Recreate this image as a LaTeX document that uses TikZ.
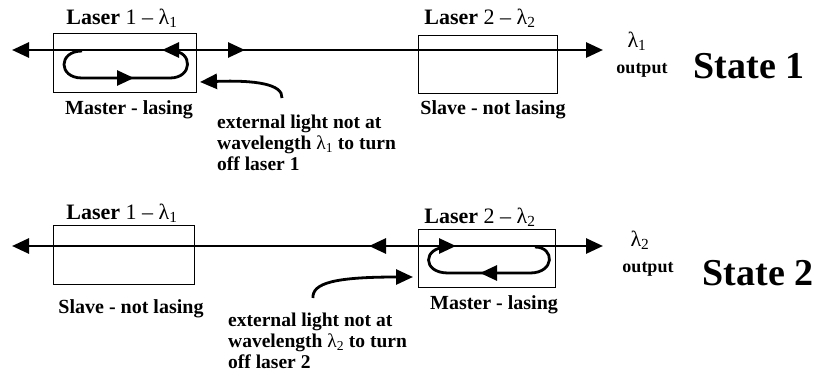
\documentclass[tikz,border=0pt]{standalone}
\usepackage{fontspec}
\setmainfont{Liberation Serif}
\usetikzlibrary{arrows.meta}
\tikzset{
  beam/.style={line width=2.8pt, draw=black},
  tri/.tip={Triangle[length=17pt,width=15pt]},
  laserbox/.style={draw=black, line width=0.8pt, rectangle, inner sep=0pt},
  lbl/.style={font=\fontsize{20}{22}\selectfont\bfseries, inner sep=0pt},
  lasertxt/.style={font=\fontsize{22}{24}\selectfont, inner sep=0pt},
  note/.style={font=\fontsize{19.5}{21}\selectfont\bfseries, inner sep=0pt, align=left, anchor=north west},
  statetxt/.style={font=\fontsize{38}{40}\selectfont\bfseries, inner sep=0pt},
}
\begin{document}
\begin{tikzpicture}[x=1pt,y=-1pt]
\useasboundingbox (0,0) rectangle (814,383);
% ---------------- State 1 ----------------
\node[laserbox, minimum width=143pt, minimum height=59pt] (b11) at (124.5,62.5) {};
\node[laserbox, minimum width=139pt, minimum height=58pt] (b12) at (488,64) {};
\coordinate (l1L) at (12,50);
\coordinate (l1R) at (603,50);
\draw[beam, {tri}-{tri}] (l1L) -- (l1R);
\coordinate (m1a) at (180,50); \coordinate (m1b) at (162,50);
\draw[beam, -{tri}] (m1a) -- (m1b);
\coordinate (m1c) at (226,50); \coordinate (m1d) at (245,50);
\draw[beam, -{tri}] (m1c) -- (m1d);
% loop
\coordinate (lp1s) at (82,51);
\coordinate (lp1e) at (172,51);
\draw[beam] (lp1s) .. controls (58,51) and (58,78) .. (82,78) -- (170,78) .. controls (193,78) and (193,51) .. (lp1e);
\coordinate (lp1a) at (115,78); \coordinate (lp1b) at (134,78);
\draw[beam, -{tri}] (lp1a) -- (lp1b);
% external light arrow
\coordinate (e1s) at (282,98);
\coordinate (e1t) at (200,82);
\draw[beam, -{tri}] (e1s) .. controls (283,84) and (255,80) .. (e1t);
% labels
\node[lasertxt] (t11) at (122,18) {\textbf{Laser} 1 – λ\textsubscript{1}};
\node[lasertxt] (t12) at (480,18) {\textbf{Laser} 2 – λ\textsubscript{2}};
\node[lbl] (s11) at (129,110) {Master - lasing};
\node[lbl] (s12) at (493,110) {Slave - not lasing};
\node[note] (n1) at (217,115) {external light not at\\wavelength \textmd{λ\textsubscript{1}} to turn\\off laser 1};
\node[lasertxt] (o1l) at (637,41) {λ\textsubscript{1}};
\node[lbl, font=\fontsize{18}{20}\selectfont\bfseries] (o1) at (642,70) {output};
\node[statetxt] (st1) at (749,66) {State 1};
% ---------------- State 2 ----------------
\node[laserbox, minimum width=141pt, minimum height=59pt] (b21) at (123.5,254.5) {};
\node[laserbox, minimum width=137pt, minimum height=58pt] (b22) at (486.5,258) {};
\coordinate (l2L) at (12,246);
\coordinate (l2R) at (603,246);
\draw[beam, {tri}-{tri}] (l2L) -- (l2R);
\coordinate (m2a) at (388,246); \coordinate (m2b) at (369,246);
\draw[beam, -{tri}] (m2a) -- (m2b);
\coordinate (m2c) at (437,246); \coordinate (m2d) at (456,246);
\draw[beam, -{tri}] (m2c) -- (m2d);
% loop
\coordinate (lp2s) at (448,247);
\coordinate (lp2e) at (535,247);
\draw[beam] (lp2s) .. controls (422,247) and (422,273) .. (448,273) -- (530,273) .. controls (555,273) and (555,247) .. (lp2e);
\coordinate (lp2a) at (499,273); \coordinate (lp2b) at (480,273);
\draw[beam, -{tri}] (lp2a) -- (lp2b);
% external light arrow
\coordinate (e2s) at (313,298);
\coordinate (e2t) at (413,277);
\draw[beam, -{tri}] (e2s) .. controls (312,283) and (335,277) .. (e2t);
% labels
\node[lasertxt] (t21) at (122,213) {\textbf{Laser} 1 – λ\textsubscript{1}};
\node[lasertxt] (t22) at (480,217) {\textbf{Laser} 2 – λ\textsubscript{2}};
\node[lbl] (s21) at (131,309) {Slave - not lasing};
\node[lbl] (s22) at (494,305) {Master - lasing};
\node[note] (n2) at (228,313) {external light not at\\wavelength \textmd{λ\textsubscript{2}} to turn\\off laser 2};
\node[lasertxt] (o2l) at (640,240) {λ\textsubscript{2}};
\node[lbl, font=\fontsize{18}{20}\selectfont\bfseries] (o2) at (648,269) {output};
\node[statetxt] (st2) at (758,273) {State 2};
\end{tikzpicture}
\end{document}
